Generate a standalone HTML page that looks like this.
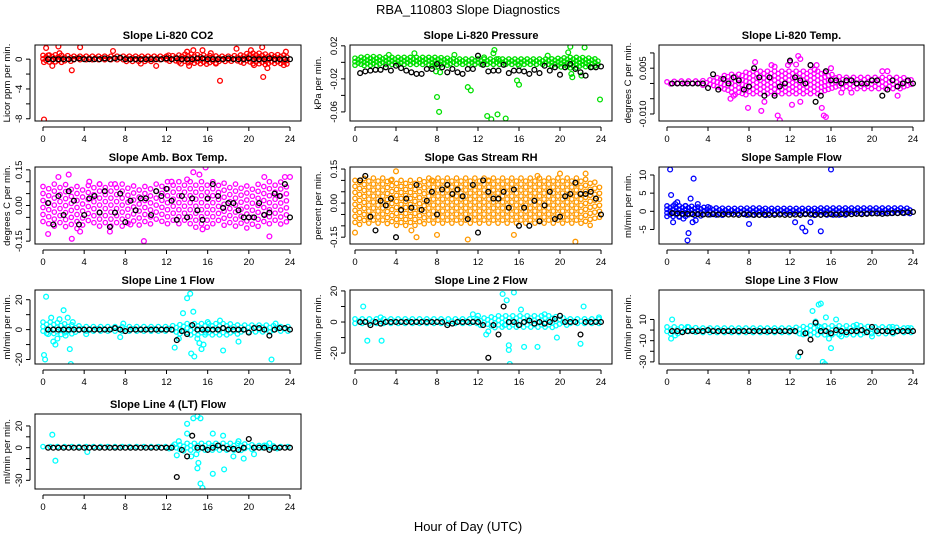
<!DOCTYPE html>
<html><head><meta charset="utf-8">
<style>
body{margin:0;background:#fff;}
svg{display:block;font-family:"Liberation Sans",sans-serif;}
</style></head>
<body>
<svg id="chart" width="936" height="540" viewBox="0 0 936 540">
<rect width="936" height="540" fill="#fff"/>
<text x="468" y="14" text-anchor="middle" font-size="13">RBA_110803  Slope Diagnostics</text>
<text x="468" y="531" text-anchor="middle" font-size="13">Hour of Day (UTC)</text>
</svg>
<script>
// shared x values for hourly-mean (black) points
const blackX = [0.5,1,1.5,2,2.5,3,3.5,4,4.5,5,5.5,6,6.5,7,7.5,8,8.5,9,9.5,10,10.5,11,11.5,12,12.5,13,13.5,14,14.5,15,15.5,16,16.5,17,17.5,18,18.5,19,19.5,20,20.5,21,21.5,22,22.5,23,23.5,24];
const bandHours = [0,1,2,3,4,5,6,7,8,9,10,11,12,13,14,15,16,17,18,19,20,21,22,23,24];
const xTicks = [0,4,8,12,16,20,24];

// Panel titles
const titles = ["Slope Li-820 CO2","Slope Li-820 Pressure","Slope Li-820 Temp.","Slope Amb. Box Temp.","Slope Gas Stream RH","Slope Sample Flow","Slope Line 1 Flow","Slope Line 2 Flow","Slope Line 3 Flow","Slope Line 4 (LT) Flow"];
const yTitles = ["Licor ppm per min.","kPa per min.","degrees C per min.","degrees C per min.","percent per min.","ml/min per min.","ml/min per min.","ml/min per min.","ml/min per min.","ml/min per min."];

// y tick values and labels
const yTickVals1 = [0,-2,-4,-6,-8];           const yTickLabs1 = ["0","","-4","","-8"];
const yTickVals2 = [0.02,0,-0.02,-0.04,-0.06]; const yTickLabs2 = ["0.02","","-0.02","","-0.06"];
const yTickVals3 = [0.01,0.005,0,-0.005,-0.01]; const yTickLabs3 = ["","0.005","","","-0.010"];
const yTickVals4 = [0.15,0.1,0.05,0,-0.05,-0.1,-0.15]; const yTickLabs4 = ["0.15","","","0.00","","","-0.15"];
const yTickVals5 = [0.15,0.1,0.05,0,-0.05,-0.1,-0.15]; const yTickLabs5 = ["0.15","","","0.00","","","-0.15"];
const yTickVals6 = [10,5,0,-5];               const yTickLabs6 = ["10","5","0","-5"];
const yTickVals7 = [20,10,0,-10,-20];         const yTickLabs7 = ["20","","0","","-20"];
const yTickVals8 = [20,10,0,-10,-20];         const yTickLabs8 = ["20","","0","","-20"];
const yTickVals9 = [10,0,-10,-20,-30];        const yTickLabs9 = ["10","","-10","","-30"];
const yTickVals10 = [20,10,0,-10,-20,-30];    const yTickLabs10 = ["20","","0","","","-30"];

// y ranges
const yRange1=[-8.3,1.9], yRange2=[-0.071,0.021], yRange3=[-0.0123,0.0126], yRange4=[-0.162,0.162], yRange5=[-0.18,0.159];
const yRange6=[-9,12.2], yRange7=[-23,26.5], yRange8=[-27,20.6], yRange9=[-32,37.8], yRange10=[-38,31];

// hourly (black) series values
const black1 = [0,0,0,0,0,0,0.1,0,0,0,0,0.1,0,0.1,0.2,0,0,0,0,0,0,0,0,0.1,0,0.1,0,0,0,0.1,0.1,0,0,0,0,0.1,0,0,0,0.1,0,0,0,0.1,0,0,0,0];
const black2 = [-0.013,-0.011,-0.01,-0.009,-0.009,-0.006,-0.01,-0.004,-0.007,-0.01,-0.012,-0.014,-0.014,-0.008,-0.008,-0.002,-0.006,-0.012,-0.008,-0.012,-0.014,-0.008,-0.008,0.008,-0.003,-0.011,-0.01,-0.01,-0.003,-0.013,-0.01,-0.01,-0.011,-0.014,-0.009,-0.013,-0.004,-0.01,-0.006,-0.015,-0.006,-0.002,-0.008,-0.012,-0.016,-0.006,-0.006,-0.005];
const black3 = [0,0,0,0,0,0,0,-0.0015,0.003,-0.002,0.0015,0,0.002,0.001,-0.002,-0.001,0.005,0.002,-0.004,0.002,-0.004,-0.001,0,0.0075,0.002,0.001,0,0.006,-0.006,-0.004,0.004,0.001,0.001,0,0.001,0.001,0,0,0,0.001,0.001,-0.004,-0.002,0.001,-0.001,0,0.001,0];
const black4 = [0.01,-0.08,0.04,-0.04,0.06,0.02,-0.08,-0.04,0.03,0.04,-0.03,0.06,-0.09,-0.03,0.05,-0.07,0.02,-0.02,0.03,0.03,-0.04,0.06,0.04,0.07,0.02,-0.06,0.04,-0.05,0.03,-0.02,-0.06,0.03,0.09,0.04,-0.01,0.01,0.01,-0.02,-0.05,-0.05,-0.05,0.01,-0.04,-0.03,0.05,0.04,0.09,-0.05];
const black5 = [0.1,0.12,-0.06,-0.12,0.01,-0.01,0.02,-0.15,-0.03,0.02,-0.02,0.08,-0.03,0.01,0.05,-0.05,0.06,0.08,0.04,0.06,0.03,-0.07,0.08,-0.13,0.1,0.05,0.02,0.02,0.05,-0.02,0.06,-0.1,-0.02,-0.1,0.01,-0.08,-0.01,0.05,-0.07,-0.06,0.03,0.04,0.09,0.04,0.04,0.05,0.02,-0.05];
const black6 = [-0.5,-0.6,-0.7,-0.7,-0.8,-0.8,-0.9,-0.9,-0.8,-0.9,-0.8,-0.9,-0.9,-1.0,-0.8,-0.9,-1.0,-1.0,-0.9,-1.0,-1.0,-0.9,-1.0,-1.0,-0.9,-1.0,-0.8,-0.9,-0.9,-1.0,-0.8,-0.8,-0.9,-0.8,-0.7,-0.8,-0.7,-0.8,-0.7,-0.6,-0.6,-0.7,-0.6,-0.5,-0.5,-0.4,-0.3,-0.2];
const black7 = [0,0,0,0,0,0,0,0,0,0,0,0,0,1,0,-1,0,0,0,0,0,0,0,0,0,-7,-1,-3,3,0,0,0,0,0,1,0,0,0,0,-2,1,1,0,-4,0,1,1,0];
const black8 = [0,0,-2,0,-1,0,0,0,0,0,0,0,0,0,0,0,0,-2,-1,0,0,0,0,0,-2,-23,-2,-8,10,0,0,-2,0,1,-1,0,-1,0,2,4,0,0,0,-8,0,0,0,0];
const black9 = [-1,-1,-2,-1,-1,-1,-1,0,-1,-1,-1,-1,-1,-1,-1,-1,-1,-1,-1,-1,-1,-1,-1,-1,-1,-21,-3,-9,7,-1,-1,-3,0,-1,-2,-1,-1,0,-2,3,-1,-1,-1,-2,-1,-1,-1,-1];
const black10 = [0,0,0,0,0,0,0,0,0,0,0,0,0,0,0,0,0,0,0,0,0,0,0,0,0,-27,-2,-8,11,0,0,-2,0,2,0,-1,-1,-2,0,8,0,0,0,-2,0,0,0,0];

// dense-band extent per hour
const bandLo1=[-0.4,-0.4,-0.5,-0.3,-0.3,-0.3,-0.3,-0.3,-0.3,-0.4,-0.4,-0.3,-0.3,-0.4,-0.6,-0.6,-0.7,-0.5,-0.4,-0.4,-0.7,-0.8,-0.7,-0.8,-0.6];
const bandHi1=[0.5,0.6,0.5,0.4,0.4,0.4,0.4,0.4,0.4,0.4,0.4,0.4,0.4,0.5,0.7,0.6,0.5,0.4,0.4,0.5,0.8,0.8,0.6,0.6,0.5];
const bandLo2=[-0.004,-0.004,-0.004,-0.004,-0.004,-0.004,-0.004,-0.004,-0.006,-0.004,-0.004,-0.004,-0.004,-0.004,-0.004,-0.004,-0.004,-0.004,-0.004,-0.004,-0.006,-0.008,-0.006,-0.006,-0.004];
const bandHi2=[0.005,0.007,0.007,0.006,0.006,0.006,0.006,0.006,0.006,0.005,0.004,0.004,0.004,0.004,0.004,0.004,0.004,0.004,0.004,0.004,0.005,0.006,0.006,0.005,0.003];
const bandLo3=[-0.0005,-0.0005,-0.0005,-0.0005,-0.001,-0.002,-0.003,-0.004,-0.004,-0.004,-0.004,-0.004,-0.004,-0.004,-0.004,-0.004,-0.003,-0.002,-0.002,-0.002,-0.002,-0.002,-0.002,-0.002,-0.001];
const bandHi3=[0.0005,0.0008,0.0008,0.0008,0.001,0.002,0.003,0.003,0.004,0.004,0.004,0.004,0.004,0.004,0.004,0.004,0.003,0.002,0.002,0.002,0.002,0.002,0.002,0.002,0.001];
const bandLo4=[-0.08,-0.09,-0.1,-0.1,-0.09,-0.09,-0.09,-0.1,-0.09,-0.09,-0.08,-0.08,-0.08,-0.09,-0.09,-0.1,-0.1,-0.09,-0.09,-0.1,-0.1,-0.1,-0.09,-0.08,-0.08];
const bandHi4=[0.08,0.09,0.09,0.08,0.08,0.09,0.09,0.09,0.09,0.08,0.08,0.09,0.1,0.1,0.1,0.1,0.1,0.1,0.09,0.09,0.08,0.09,0.1,0.1,0.09];
const bandLo5=[-0.1,-0.1,-0.1,-0.1,-0.1,-0.1,-0.1,-0.1,-0.1,-0.1,-0.1,-0.1,-0.1,-0.1,-0.1,-0.1,-0.1,-0.1,-0.1,-0.1,-0.1,-0.1,-0.1,-0.1,-0.08];
const bandHi5=[0.1,0.11,0.11,0.11,0.1,0.1,0.1,0.11,0.11,0.11,0.11,0.11,0.11,0.11,0.11,0.11,0.11,0.11,0.11,0.11,0.11,0.11,0.11,0.1,0.08];
const bandLo6=[-1.5,-1.5,-1.5,-1.5,-1.2,-1.1,-1.1,-1.1,-1.1,-1.1,-1.1,-1.1,-1.1,-1.1,-1.1,-1.1,-1.1,-1.1,-1.0,-1.0,-1.0,-1.0,-1.0,-0.9,-0.6];
const bandHi6=[1.5,1.5,1.5,1.2,1.0,0.9,0.8,0.8,0.9,0.9,0.8,0.8,0.8,0.8,0.8,0.9,0.9,0.9,0.9,0.9,0.9,0.9,0.9,0.9,0.8];
const bandLo7=[-4,-4,-4,-3,-2,-2,-2,-2,-2,-2,-2,-2,-2,-3,-4,-4,-4,-4,-4,-3,-3,-3,-2,-2,-2];
const bandHi7=[5,5,4,3,2,2,2,2,2,2,2,2,2,3,4,4,4,4,4,3,3,3,3,2,2];
const bandLo8=[-2,-2,-2,-2,-2,-2,-2,-2,-2,-2,-2,-2,-2,-3,-4,-4,-4,-4,-4,-4,-3,-2,-2,-2,-2];
const bandHi8=[2,2,2,2,2,2,2,2,2,2,2,2,2,3,4,4,4,4,4,4,3,2,2,2,2];
const bandLo9=[-4,-4,-3,-3,-3,-3,-3,-3,-3,-3,-3,-3,-3,-4,-5,-5,-5,-5,-5,-5,-4,-4,-4,-3,-3];
const bandHi9=[3,3,3,2,2,2,2,2,2,2,2,2,2,3,4,4,4,4,4,4,3,3,3,2,2];
const bandLo10=[-1,-1,-1,-1,-1,-1,-1,-1,-1,-1,-1,-1,-1,-2,-4,-4,-4,-4,-4,-4,-3,-2,-2,-1,-1];
const bandHi10=[1,1,1,1,1,1,1,1,1,1,1,1,1,2,4,4,4,4,4,4,3,2,2,1,1];

// individual outlier points [hour, value]
const out1=[[0.1,-8.1],[0.1,-0.4],[0.3,1.5],[0.5,0.5],[0.9,-0.9],[1.5,1.7],[1.6,0.8],[2.8,-1.5],[3.6,1.6],[6.8,1.1],[9.5,-0.6],[11,-0.9],[12.2,0.5],[14,1.0],[14.6,1.2],[14.2,-0.9],[15.5,1.2],[16.3,0.8],[17.2,-2.9],[18.8,1.4],[20.2,1.2],[21.3,1.6],[21.4,-2.4],[21.8,-1.2],[23.6,1.0],[23.4,-0.8],[13.4,-0.6],[16.8,-0.6],[20.5,-0.8]];
const out2=[[3.3,0.009],[5.8,0.011],[9.7,0.009],[8,-0.042],[8.2,-0.06],[11,-0.03],[11.3,-0.034],[12.6,0.006],[12.9,-0.065],[13.3,-0.069],[13.5,0.011],[13.9,-0.063],[13.6,0.015],[14.7,-0.068],[15.8,-0.022],[16,-0.027],[18.8,0.008],[20.8,0.012],[21,0.019],[21.1,-0.014],[21.2,-0.018],[22.4,0.018],[23.9,-0.045],[22.1,-0.016],[8.3,-0.012],[16,-0.004],[14,0.004],[7.9,-0.011]];
const out3=[[8.6,0.007],[10.2,0.006],[12,0.007],[13,0.008],[12.8,0.009],[11.8,0.006],[14,0.006],[14.6,0.006],[6.2,-0.005],[7.9,-0.008],[9.2,-0.009],[10.8,-0.0105],[11,-0.012],[12.2,-0.007],[13,-0.006],[15.1,-0.008],[15.3,-0.0105],[15.5,-0.011],[16,0.005],[21,0.004],[21.5,0.004],[6.5,-0.004],[9.5,-0.006],[10.5,0.0055],[12.6,0.0062],[14.4,0.0045],[17,-0.003],[18,-0.003],[22.5,-0.004]];
const out4=[[0.5,-0.12],[1.5,0.12],[2.5,0.13],[2.8,-0.14],[4.5,0.1],[5.5,0.09],[9.8,-0.15],[12.5,0.1],[14,0.11],[14.6,0.14],[15.2,0.13],[15.8,0.16],[15.5,-0.1],[21.5,0.12],[22,-0.13],[23.5,0.12],[24,0.12],[8.5,-0.08],[3.6,-0.11],[6.5,-0.11],[7,0.09]];
const out5=[[0,-0.13],[0.5,0.1],[4,0.14],[3.5,0.1],[6,-0.15],[8,-0.14],[11,-0.16],[21.5,-0.17],[20,0.13],[22.5,0.13],[5.5,-0.12],[7.5,0.1],[13,0.1],[15.5,-0.14],[17.8,0.12]];
const out6=[[0.3,11.5],[0.4,4.5],[0.6,-3],[0.8,2],[1.2,-1.5],[1.6,-2],[2,-8],[2.1,-6],[2.3,3.5],[2.5,-3],[2.6,9],[2.8,-2.5],[3,2],[8,-3.5],[12.5,-3],[13.2,-4.5],[13.5,-5.5],[14,-3],[15,-5.5],[16,11.5],[4,1.2],[1,2.5],[1.8,1.5]];
const out7=[[0.1,-17],[0.2,-20],[0.3,22],[0.5,-3],[0.8,8],[1,-8],[1.2,-10],[1.4,-6],[1.6,7],[2,13],[2.2,-4],[2.4,8],[2.6,-13],[2.7,-23],[2.9,5],[4.2,-3],[7.5,-5],[7.8,4],[12.8,-12],[13.6,11],[14,21],[14.3,24],[14.6,12],[14.4,-16],[14.7,-18],[15,-6],[15.2,-9],[15.6,-10],[15.4,-13],[16,5],[17.5,-14],[17.2,6],[19,-8],[22.2,-20],[22.6,4],[13.2,-6],[15.8,-2]];
const out8=[[0.8,10],[1.2,-12],[2.6,-12],[2.5,3],[11.5,5],[12.8,-8],[13,-6],[14.4,18],[14.6,-2],[14.8,14],[15,-15],[15,-18],[15.1,-27],[15.5,19],[16.2,8],[16.5,-16],[17.8,-16],[19.7,-10],[22,-14],[22.3,10],[23.8,3],[18.5,5],[12,4]];
const out9=[[0.5,10],[0.4,-8],[0.8,-5],[2,3],[14.2,18],[14.5,8],[14.8,24],[15,25],[15.2,-30],[15.4,-32],[16,-17],[15.5,12],[15.8,-8],[16.5,10],[17,-6],[18.5,5],[20,-6],[22,3],[23.5,2],[12.8,-25],[14.9,3],[13.3,-4]];
const out10=[[0.9,12],[1.2,-12],[4.3,-4],[12.8,3],[13,-7],[13.2,6],[14,22],[14,13],[14.4,-8],[14.6,27],[15,29],[15.3,27],[14.9,-6],[15.1,-14],[15,-19],[15.3,-33],[15.5,-37],[16.5,-24],[16.5,13],[17.6,-20],[17.5,11],[18.5,-8],[19,6],[19.5,-10],[20.5,-6],[21.5,2],[22,4]];

const NS="http://www.w3.org/2000/svg";
const svg=document.getElementById('chart');
function mk(tag,attrs,parent){const e=document.createElementNS(NS,tag);for(const k in attrs)e.setAttribute(k,attrs[k]);parent.appendChild(e);return e;}

const cols=[{bl:35,br:301,x0:43,x24:290,tx:10},{bl:350,br:612,x0:355,x24:601,tx:321},{bl:659,br:924,x0:667,x24:913,tx:631}];
const rows=[{t:45,b:121},{t:167,b:244},{t:290,b:364},{t:414,b:489}];
const panels=[
 {ticks:yTickVals1,labs:yTickLabs1,r:yRange1,blk:black1,lo:bandLo1,hi:bandHi1,out:out1,col:"#ff0000",sx:0.3,sy:3.5},
 {ticks:yTickVals2,labs:yTickLabs2,r:yRange2,blk:black2,lo:bandLo2,hi:bandHi2,out:out2,col:"#00e000",sx:0.3,sy:3.5},
 {ticks:yTickVals3,labs:yTickLabs3,r:yRange3,blk:black3,lo:bandLo3,hi:bandHi3,out:out3,col:"#ff00ff",sx:0.35,sy:4.5},
 {ticks:yTickVals4,labs:yTickLabs4,r:yRange4,blk:black4,lo:bandLo4,hi:bandHi4,out:out4,col:"#ff00ff",sx:0.55,sy:7},
 {ticks:yTickVals5,labs:yTickLabs5,r:yRange5,blk:black5,lo:bandLo5,hi:bandHi5,out:out5,col:"#ff9900",sx:0.45,sy:6},
 {ticks:yTickVals6,labs:yTickLabs6,r:yRange6,blk:black6,lo:bandLo6,hi:bandHi6,out:out6,col:"#0000ff",sx:0.3,sy:3.5},
 {ticks:yTickVals7,labs:yTickLabs7,r:yRange7,blk:black7,lo:bandLo7,hi:bandHi7,out:out7,col:"#00ffff",sx:0.35,sy:4.5},
 {ticks:yTickVals8,labs:yTickLabs8,r:yRange8,blk:black8,lo:bandLo8,hi:bandHi8,out:out8,col:"#00ffff",sx:0.35,sy:4.5},
 {ticks:yTickVals9,labs:yTickLabs9,r:yRange9,blk:black9,lo:bandLo9,hi:bandHi9,out:out9,col:"#00ffff",sx:0.35,sy:4.5},
 {ticks:yTickVals10,labs:yTickLabs10,r:yRange10,blk:black10,lo:bandLo10,hi:bandHi10,out:out10,col:"#00ffff",sx:0.35,sy:4.5}
];

panels.forEach((p,i)=>{
  const c=cols[i%3], rw=rows[Math.floor(i/3)];
  const g=mk('g',{},svg);
  
  
  const xs=h=>c.x0+(c.x24-c.x0)*h/24;
  const ys=v=>rw.b+(rw.t-rw.b)*(v-p.r[0])/(p.r[1]-p.r[0]);
  const clip=mk('clipPath',{id:'clip'+i},g);
  mk('rect',{x:c.bl,y:rw.t,width:c.br-c.bl,height:rw.b-rw.t},clip);
  const t=mk('text',{x:(c.bl+c.br)/2,y:rw.t-6,'text-anchor':'middle','font-size':'11','font-weight':'bold'},g);
  t.textContent=titles[i];
  
  
  const yt=mk('text',{x:c.tx,y:(rw.t+rw.b)/2,'text-anchor':'middle','font-size':'9.5',transform:`rotate(-90 ${c.tx} ${(rw.t+rw.b)/2})`},g);
  yt.textContent=yTitles[i];
  
  
  const m=mk('g',{'clip-path':`url(#clip${i})`,fill:'none','stroke-width':'1.3'},g);
  // dense band (sparse grid of circles within per-hour extent)
  const band=mk('g',{stroke:p.col},m);
  
  
  let col=0;
  for(let h=0;h<=24;h+=p.sx){
    const k=Math.min(23,Math.floor(h)),f=h-k;
    const lo=p.lo[k]+(p.lo[k+1]-p.lo[k])*f, hi=p.hi[k]+(p.hi[k+1]-p.hi[k])*f;
    const y1=ys(hi),y2=ys(lo);
    const off=(col%2)*p.sy/2; col++;
    for(let y=y1+off;y<=y2+0.01;y+=p.sy){
      mk('circle',{cx:xs(h).toFixed(1),cy:y.toFixed(1),r:2.2},band);
    }
  }
  const og=mk('g',{stroke:p.col},m);
  
  
  p.out.forEach(pt=>{mk('circle',{cx:xs(pt[0]).toFixed(1),cy:ys(pt[1]).toFixed(1),r:2.4},og);});
  const bg=mk('g',{stroke:'#000'},m);
  
  
  p.blk.forEach((v,j)=>{mk('circle',{cx:xs(blackX[j]).toFixed(1),cy:ys(v).toFixed(1),r:2.4},bg);});
  const box=mk('rect',{x:c.bl,y:rw.t,width:c.br-c.bl,height:rw.b-rw.t,fill:'none',stroke:'#000','stroke-width':'1'},g);
  
  
  const xa=mk('g',{},g);
  
  
  mk('line',{x1:xs(0),x2:xs(24),y1:rw.b+6,y2:rw.b+6,stroke:'#000'},xa);
  xTicks.forEach(v=>{
    mk('line',{x1:xs(v),x2:xs(v),y1:rw.b+6,y2:rw.b+10,stroke:'#000'},xa);
    const tl=mk('text',{x:xs(v),y:rw.b+21,'text-anchor':'middle','font-size':'9.5'},xa);
    tl.textContent=v;
  });
  const ya=mk('g',{},g);
  
  
  const ax=c.bl-5;
  const tv=p.ticks;
  mk('line',{x1:ax,x2:ax,y1:ys(Math.max(...tv)),y2:ys(Math.min(...tv)),stroke:'#000'},ya);
  tv.forEach((v,j)=>{
    const y=ys(v);
    mk('line',{x1:ax-4,x2:ax,y1:y,y2:y,stroke:'#000'},ya);
    if(p.labs[j]){
      const tl=mk('text',{x:ax-8,y:y,'text-anchor':'middle','font-size':'9.5',transform:`rotate(-90 ${ax-8} ${y})`},ya);
      tl.textContent=p.labs[j];
    }
  });
});
</script>
</body></html>
